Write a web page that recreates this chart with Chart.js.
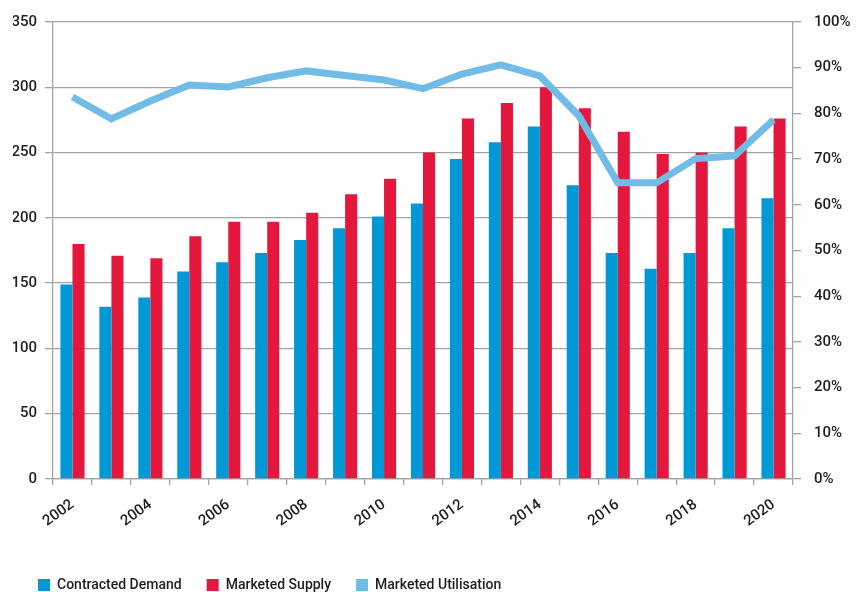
<!DOCTYPE html>
<html>
<head>
<meta charset="utf-8">
<script src="https://cdn.jsdelivr.net/npm/chart.js@4.4.0/dist/chart.umd.min.js"></script>
<style>
  html, body { margin: 0; padding: 0; background: #fff; }
  #wrap { width: 863px; height: 592px; }
</style>
</head>
<body>
<div id="wrap"><canvas id="myChart" width="863" height="592"></canvas></div>
<script>
// data
const years = ['2002','2003','2004','2005','2006','2007','2008','2009','2010','2011',
               '2012','2013','2014','2015','2016','2017','2018','2019','2020']
const contracted_demand = [149,132,139,159,166,173,183,192,201,211,245,258,270,225,173,161,173,192,215]
const marketed_supply   = [180,171,169,186,197,197,204,218,230,250,276,288,300,284,266,249,250,270,276]
const utilisation       = [83.6,78.8,82.7,86.2,85.8,87.8,89.3,88.3,87.3,85.4,88.6,90.6,88.2,79.5,64.8,64.8,70.1,70.7,78.6]
const left_ticks  = [0,50,100,150,200,250,300,350]
const right_ticks = [0,10,20,30,40,50,60,70,80,90,100]

const BLUE = 'rgb(0, 152, 213)'
const RED = 'rgb(227, 24, 60)'
const LIGHT = 'rgb(112, 188, 230)'
const GRID = '#a3a3a3'
const TEXT = '#1e1e1e'

Chart.defaults.font.family = 'Roboto'
Chart.defaults.font.size = 15
Chart.defaults.font.weight = 500
Chart.defaults.color = TEXT

// fix legend height so the plot bottom lands where it should
const legendHeight = {
    id: 'legendHeight',
    beforeInit(chart) {
        const origFit = chart.legend.fit
        chart.legend.fit = function () {
            origFit.bind(chart.legend)()
            this.height = 39
        }
    }
}

const ctx = document.getElementById('myChart')
let myChart = new Chart(ctx, {
    type: 'bar',
    data: {
        labels: years,
        datasets: [{
            label: 'Contracted Demand',
            data: contracted_demand,
            backgroundColor: BLUE,
            yAxisID: 'y',
            order: 1
        }, {
            label: 'Marketed Supply',
            data: marketed_supply,
            backgroundColor: RED,
            yAxisID: 'y',
            order: 1
        }, {
            type: 'line',
            label: 'Marketed Utilisation',
            data: utilisation,
            borderColor: LIGHT,
            backgroundColor: LIGHT,
            borderWidth: 7,
            pointRadius: 0,
            tension: 0,
            yAxisID: 'y2',
            order: 0
        }]
    },
    plugins: [legendHeight],
    options: {
        responsive: false,
        animation: false,
        layout: { padding: { left: 13, right: 0, top: 21, bottom: 0 } },
        datasets: {
            bar: { categoryPercentage: 0.62, barPercentage: 1.0 }
        },
        plugins: {
            tooltip: { enabled: false },
            legend: {
                position: 'bottom',
                align: 'start',
                labels: {
                    boxWidth: 12,
                    boxHeight: 12,
                    padding: 25,
                    color: TEXT,
                    font: { size: 14, weight: 500 },
                    sort: (a, b) => a.datasetIndex - b.datasetIndex,
                    generateLabels: function (chart) {
                        const items = Chart.defaults.plugins.legend.labels.generateLabels(chart)
                        const cols = [BLUE, RED, LIGHT]
                        items.forEach(it => {
                            it.fillStyle = cols[it.datasetIndex]
                            it.strokeStyle = cols[it.datasetIndex]
                            it.lineWidth = 0
                        })
                        return items
                    }
                }
            }
        },
        scales: {
            x: {
                grid: { drawOnChartArea: false, offset: true, tickLength: 6, color: GRID, lineWidth: 1.3 },
                border: { color: GRID, width: 1.3 },
                ticks: {
                    autoSkip: false,
                    minRotation: 36,
                    maxRotation: 36,
                    padding: 11,
                    callback: function (val, i) { return i % 2 === 0 ? years[i] : '' }
                },
                afterFit: function (s) { s.height = 74 }
            },
            y: {
                position: 'left',
                min: 0,
                max: 350,
                afterBuildTicks: function (s) { s.ticks = left_ticks.map(v => ({ value: v })) },
                grid: { color: GRID, lineWidth: 1.3, tickLength: 8 },
                border: { color: GRID, width: 1.3 },
                ticks: { padding: 8 },
                afterFit: function (s) { s.width = 40 }
            },
            y2: {
                position: 'right',
                min: 0,
                max: 100,
                afterBuildTicks: function (s) { s.ticks = right_ticks.map(v => ({ value: v })) },
                grid: { drawOnChartArea: false, color: GRID, lineWidth: 1.3, tickLength: 8 },
                border: { color: GRID, width: 1.3 },
                ticks: { padding: 13, callback: v => v + '%' },
                afterFit: function (s) { s.width = 70 }
            }
        }
    }
})
</script>
</body>
</html>
